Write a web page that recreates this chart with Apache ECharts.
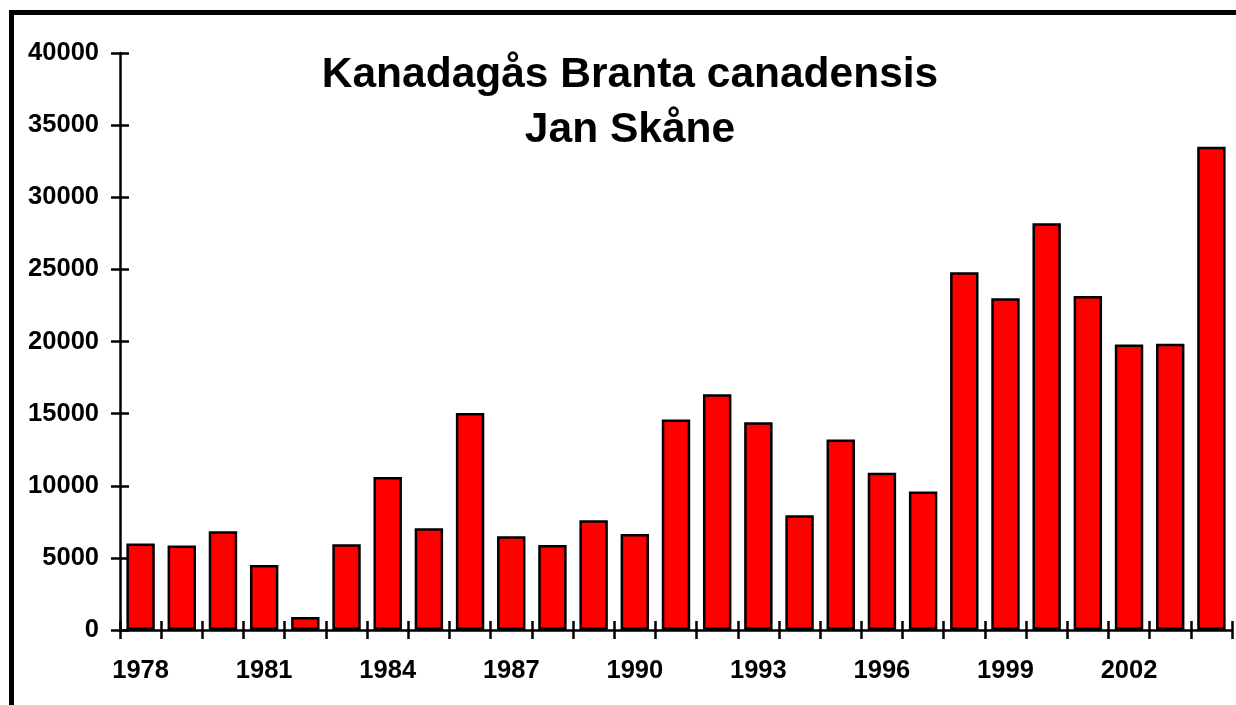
<!DOCTYPE html>
<html>
<head>
<meta charset="utf-8">
<script src="https://cdn.jsdelivr.net/npm/echarts@6/dist/echarts.min.js"></script>
<style>
  html, body { margin: 0; padding: 0; background: #fff; }
  #chart { width: 1236px; height: 705px; }
</style>
</head>
<body>
<div id="chart"></div>
<script>
var years = ['1978', '1979', '1980', '1981', '1982', '1983', '1984', '1985', '1986',
    '1987', '1988', '1989', '1990', '1991', '1992', '1993', '1994', '1995', '1996',
    '1997', '1998', '1999', '2000', '2001', '2002', '2003', '2004'];
var geese = [6000, 5850, 6850, 4500, 900, 5950, 10600, 7050, 15050,
    6500, 5900, 7600, 6650, 14600, 16350, 14400, 7950, 13200, 10900,
    9600, 24800, 23000, 28200, 23150, 19800, 19850, 33500];
var yTicks = [0, 5000, 10000, 15000, 20000, 25000, 30000, 35000, 40000];

var chart = echarts.init(document.getElementById('chart'));

var fontBold = { fontFamily: 'Liberation Sans, Arial, sans-serif', fontWeight: 'bold', color: '#000' };

var option = {
    backgroundColor: '#fff',
    animation: false,
    title: {
        text: 'Kanadagås Branta canadensis\nJan Skåne',
        left: 625,
        top: 43,
        textAlign: 'center',
        textStyle: {
            fontFamily: 'Liberation Sans, Arial, sans-serif',
            fontWeight: 'bold',
            fontSize: 42.5,
            lineHeight: 55,
            color: '#000'
        }
    },
    graphic: [
        {
            type: 'rect',
            shape: { x: 11.5, y: 12.5, width: 1400, height: 900 },
            style: { fill: null, stroke: '#000', lineWidth: 5 },
            z: 100
        }
    ],
    grid: {
        left: 120,
        right: 4,
        top: 53,
        bottom: 75
    },
    xAxis: [
        {
            type: 'category',
            data: years,
            axisLine: { lineStyle: { color: '#000', width: 2.5 } },
            axisTick: { show: true, interval: 0, length: 9, lineStyle: { color: '#000', width: 2.5 } },
            axisLabel: Object.assign({ interval: 2, fontSize: 25.5, margin: 28 }, fontBold),
            splitLine: { show: false }
        },
        {
            type: 'category',
            position: 'bottom',
            data: years,
            axisLine: { show: false },
            axisTick: { show: true, inside: true, interval: 0, length: 9, lineStyle: { color: '#000', width: 2.5 } },
            axisLabel: { show: false },
            splitLine: { show: false }
        }
    ],
    yAxis: [
        {
            type: 'value',
            min: yTicks[0],
            max: yTicks[yTicks.length - 1],
            interval: 5000,
            axisLine: { show: true, lineStyle: { color: '#000', width: 2.5 } },
            axisTick: { show: true, length: 9, lineStyle: { color: '#000', width: 2.5 } },
            axisLabel: Object.assign({
                fontSize: 25.5,
                margin: 21,
                formatter: function (v) { return String(v); }
            }, fontBold),
            splitLine: { show: false }
        },
        {
            type: 'value',
            position: 'left',
            min: yTicks[0],
            max: yTicks[yTicks.length - 1],
            interval: 5000,
            axisLine: { show: false },
            axisTick: { show: true, inside: true, length: 9, lineStyle: { color: '#000', width: 2.5 } },
            axisLabel: { show: false },
            splitLine: { show: false }
        }
    ],
    series: [
        {
            name: 'Kanadagås',
            type: 'bar',
            data: geese,
            barCategoryGap: '31%',
            itemStyle: {
                color: '#ff0000',
                borderColor: '#000',
                borderWidth: 2.5
            }
        }
    ]
};

chart.setOption(option);
</script>
</body>
</html>
